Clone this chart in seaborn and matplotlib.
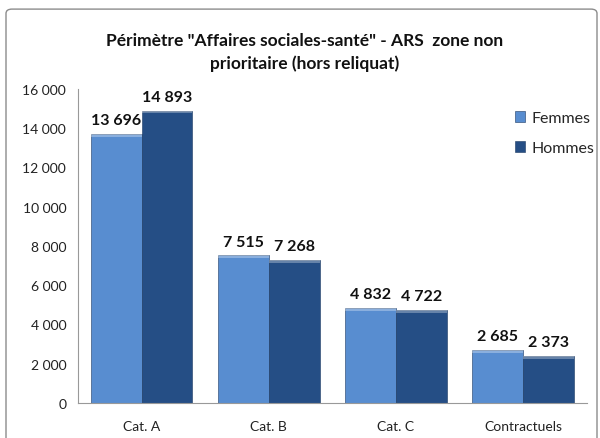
import pandas as pd
import numpy as np
import seaborn as sns
import matplotlib.pyplot as plt
from matplotlib.patches import FancyBboxPatch, Patch
from matplotlib.ticker import FuncFormatter

categories = ["Cat. A", "Cat. B", "Cat. C", "Contractuels"]
femmes = [13696, 7515, 4832, 2685]
hommes = [14893, 7268, 4722, 2373]
yticks = [0, 2000, 4000, 6000, 8000, 10000, 12000, 14000, 16000]

df = pd.DataFrame({
    "cat": categories * 2,
    "sexe": ["Femmes"] * 4 + ["Hommes"] * 4,
    "val": femmes + hommes,
})

sns.set_style("white")
plt.rcParams["font.family"] = ["Lato", "DejaVu Sans"]

fig = plt.figure(figsize=(6, 4.39), dpi=100)
ax = fig.add_axes([0.13, 0.08, 0.848, 0.715])

colors = {"Femmes": "#588dd0", "Hommes": "#254e85"}
sns.barplot(data=df, x="cat", y="val", hue="sexe", palette=colors, saturation=1,
            order=categories, hue_order=["Femmes", "Hommes"], width=0.8,
            edgecolor="#1c3a63", linewidth=0.4, ax=ax, legend=False)

# light bevel on top of each bar
for p in list(ax.patches):
    x, w, h = p.get_x(), p.get_width(), p.get_height()
    ax.bar(x + w / 2, 130, width=w, bottom=h - 130, color="white", alpha=0.3, linewidth=0)

fmt = lambda v: f"{int(v):,}".replace(",", " ")
for cont in ax.containers[:2]:
    ax.bar_label(cont, labels=[fmt(v) for v in cont.datavalues], padding=5,
                 fontsize=11.5, fontweight="bold", color="#111111")

ax.set_xlim(-0.5, 3.5)
ax.set_ylim(0, 16000)
ax.set_yticks(yticks)
ax.yaxis.set_major_formatter(FuncFormatter(lambda v, p: fmt(v)))
ax.set_xlabel("")
ax.set_ylabel("")
ax.set_xticks([0.5, 1.5, 2.5, 3.5], minor=True)
ax.tick_params(axis="x", which="major", length=0, labelsize=10, pad=12, colors="#222222")
ax.tick_params(axis="x", which="minor", length=5, color="#999999", direction="out")
ax.tick_params(axis="y", length=5, color="#999999", direction="out", labelsize=10, labelcolor="#222222")
for s in ["top", "right"]:
    ax.spines[s].set_visible(False)
for s in ["left", "bottom"]:
    ax.spines[s].set_color("#999999")
    ax.spines[s].set_linewidth(0.8)

handles = [Patch(facecolor=colors[k], edgecolor="#1c3a63", linewidth=0.4) for k in ["Femmes", "Hommes"]]
ax.legend(handles, ["Femmes", "Hommes"], loc="upper left", bbox_to_anchor=(0.83, 0.975),
          frameon=False, fontsize=11.5, handlelength=0.65, handleheight=0.65,
          handletextpad=0.4, labelspacing=1.0)

fig.text(0.508, 0.88, "Périmètre \"Affaires sociales-santé\" - ARS  zone non\nprioritaire (hors reliquat)",
         ha="center", va="center", fontsize=12.5, fontweight="bold", linespacing=1.45, color="#111111")

border = FancyBboxPatch((0.01, -0.05), 0.985, 1.027, boxstyle="round,pad=0,rounding_size=0.01",
                        transform=fig.transFigure, facecolor="none", edgecolor="#8c8c8c", linewidth=1.0)
fig.patches.append(border)

fig.savefig("out.png", dpi=100)
